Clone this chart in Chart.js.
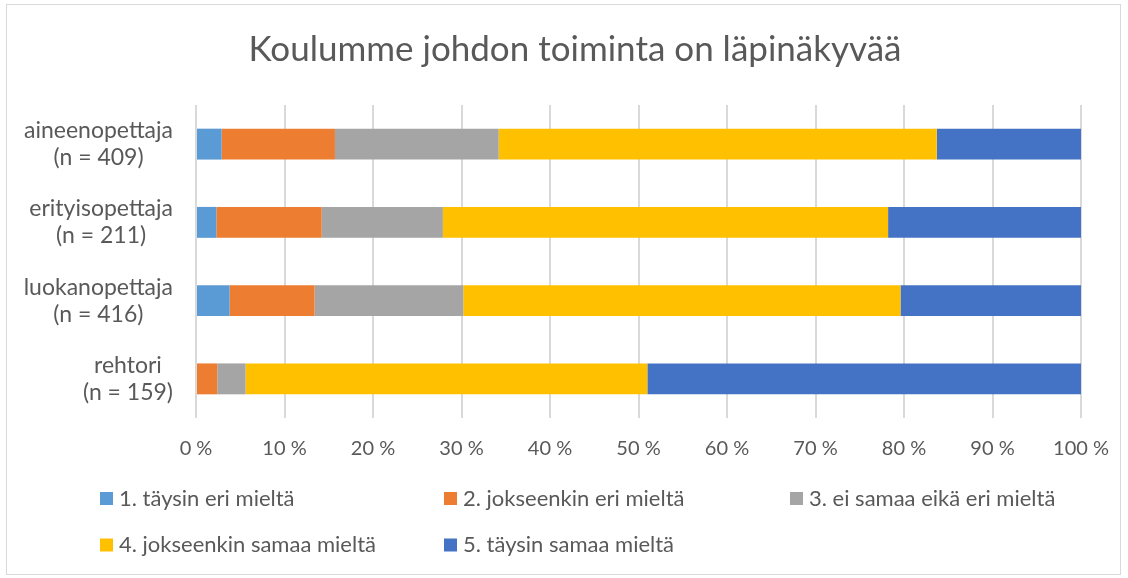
<!DOCTYPE html>
<html>
<head>
<meta charset="utf-8">
<script src="https://cdn.jsdelivr.net/npm/chart.js@4/dist/chart.umd.min.js"></script>
<style>
  html, body { margin: 0; padding: 0; background: #fff; }
  #wrap { width: 1128px; height: 578px; position: relative; }
</style>
</head>
<body>
<div id="wrap"><canvas id="chart" width="1128" height="578"></canvas></div>
<script>
// ================= DATA =================
const groupNames = ['aineenopettaja', 'erityisopettaja', 'luokanopettaja', 'rehtori'];
const groupSizes = ['(n = 409)', '(n = 211)', '(n = 416)', '(n = 159)'];

const seriesNames = [
    '1. täysin eri mieltä',
    '2. jokseenkin eri mieltä',
    '3. ei samaa eikä eri mieltä',
    '4. jokseenkin samaa mieltä',
    '5. täysin samaa mieltä'
];
// percentages, one value per group (top to bottom)
const taysinEri     = [2.9, 2.3, 3.8, 0.0];
const jokseenkinEri = [12.8, 11.9, 9.6, 2.4];
const eiSamaaEiEri  = [18.5, 13.7, 16.8, 3.2];
const jokseenkinSam = [49.5, 50.3, 49.4, 45.4];
const taysinSamaa   = [16.3, 21.8, 20.4, 49.0];

const xTicks = [0, 10, 20, 30, 40, 50, 60, 70, 80, 90, 100];

const seriesColors = ['#5B9BD5', '#ED7D31', '#A5A5A5', '#FFC000', '#4472C4'];
const FONT = 'Lato, "Open Sans", sans-serif';
const TEXT_COLOR = '#595959';

// -------------------------------------------------------
const seriesValues = [taysinEri, jokseenkinEri, eiSamaaEiEri, jokseenkinSam, taysinSamaa];
const datasets = seriesNames.map((name, i) => ({
    label: name,
    data: seriesValues[i],
    backgroundColor: seriesColors[i],
    borderWidth: 0,
    categoryPercentage: 1,
    barPercentage: 0.395
}));

// white background + thin frame
const framePlugin = {
    id: 'frame',
    beforeDraw(chart) {
        const ctx = chart.ctx;
        ctx.save();
        ctx.fillStyle = '#fff';
        ctx.fillRect(0, 0, chart.width, chart.height);
        ctx.strokeStyle = '#d9d9d9';
        ctx.lineWidth = 1;
        ctx.strokeRect(6.5, 4.5, 1114, 570);
        ctx.restore();
    }
};

// category labels: two lines, each block centered on itself, right aligned to the axis
const categoryLabels = {
    id: 'categoryLabels',
    afterDraw(chart) {
        const ctx = chart.ctx;
        const yScale = chart.scales.y;
        const right = chart.chartArea.left - 23;
        ctx.save();
        ctx.font = '23px ' + FONT;
        ctx.fillStyle = TEXT_COLOR;
        ctx.textAlign = 'center';
        ctx.textBaseline = 'middle';
        groupNames.forEach((name, i) => {
            const yc = yScale.getPixelForValue(i);
            const w = Math.max(ctx.measureText(name).width, ctx.measureText(groupSizes[i]).width);
            const cx = right - w / 2;
            ctx.fillText(name, cx, yc - 13.5);
            ctx.fillText(groupSizes[i], cx, yc + 13.5);
        });
        ctx.restore();
    }
};

// legend laid out on a grid, like the original
const gridLegend = {
    id: 'gridLegend',
    afterDraw(chart) {
        const ctx = chart.ctx;
        const colX = [100, 444, 790];
        const rowY = [498.5, 545];
        ctx.save();
        ctx.font = '22px ' + FONT;
        ctx.textAlign = 'left';
        ctx.textBaseline = 'middle';
        chart.data.datasets.forEach((ds, i) => {
            const x = colX[i % 3];
            const y = rowY[Math.floor(i / 3)];
            ctx.fillStyle = ds.backgroundColor;
            ctx.fillRect(x, y - 6.5, 13, 13);
            ctx.fillStyle = TEXT_COLOR;
            ctx.fillText(ds.label, x + 19, y);
        });
        ctx.restore();
    }
};

const chart = new Chart(document.getElementById('chart'), {
    type: 'bar',
    data: { labels: groupNames, datasets: datasets },
    options: {
        indexAxis: 'y',
        responsive: false,
        animation: false,
        layout: { padding: { left: 67, right: 45, top: 0, bottom: 98 } },
        plugins: {
            legend: { display: false },
            tooltip: { enabled: false },
            title: {
                display: true,
                text: 'Koulumme johdon toiminta on läpinäkyvää',
                color: TEXT_COLOR,
                font: { family: FONT, size: 35, weight: 'normal' },
                padding: { top: 29, bottom: 34 }
            }
        },
        scales: {
            x: {
                stacked: true,
                min: 0,
                max: 100,
                afterBuildTicks: (axis) => { axis.ticks = xTicks.map(v => ({ value: v })); },
                grid: { color: '#d9d9d9', lineWidth: 2, drawTicks: false },
                border: { display: false },
                ticks: {
                    padding: 19,
                    color: TEXT_COLOR,
                    font: { family: FONT, size: 20 },
                    callback: (v) => v + ' %'
                }
            },
            y: {
                stacked: true,
                grid: { display: false },
                border: { display: false },
                ticks: { display: false },
                afterFit: (axis) => { axis.width = 129; }
            }
        }
    },
    plugins: [framePlugin, categoryLabels, gridLegend]
});
</script>
</body>
</html>
